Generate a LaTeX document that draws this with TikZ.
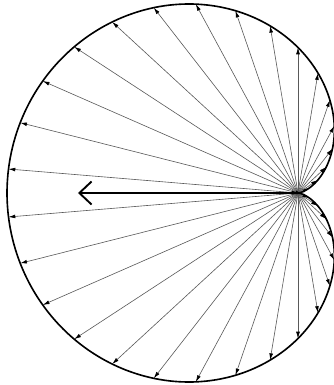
\documentclass[tikz,border=0pt]{standalone}
\usetikzlibrary{arrows.meta}

\begin{document}
\begin{tikzpicture}[x=0.026cm, y=0.026cm,
    curve/.style={draw=black, line width=1.2pt},
    vec/.style={draw=black!65, line width=0.45pt, -{Latex[length=5pt, width=2.8pt, black]}},
    main/.style={draw=black, line width=1.5pt, -{Straight Barb[length=9pt, width=17pt, line width=1.4pt]}}]

  \useasboundingbox (-298,-192) rectangle (36,193);
  \def\a{145.5}

  % ---------------- rays from the cusp ----------------
  \coordinate (cusp) at (0,0);
  \foreach \i in {0,...,37}{
    \pgfmathsetmacro\ang{(\i+0.5)*360/38}
    \pgfmathsetmacro\rad{\a*(1-cos(\ang))}
    \coordinate (p\i) at ({\rad*cos(\ang)},{\rad*sin(\ang)});
    \draw[vec] (cusp) -- (p\i);
  }

  % ---------------- cardioid ----------------
  \draw[curve] plot[domain=0:360, samples=240, smooth]
    ({\a*(1-cos(\x))*cos(\x)},{\a*(1-cos(\x))*sin(\x)});

  % big vector to the left
  \coordinate (tip) at (-220,0);
  \draw[main] (cusp) -- (tip);
\end{tikzpicture}
\end{document}
